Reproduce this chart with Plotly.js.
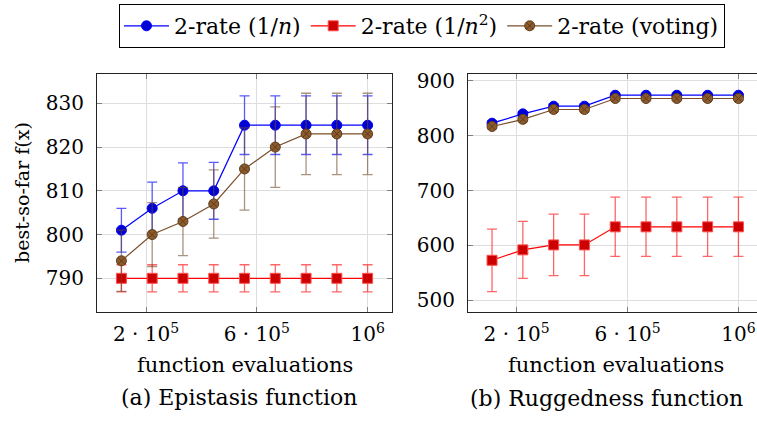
<!DOCTYPE html>
<html>
<head>
<meta charset="utf-8">
<script src="https://cdn.plot.ly/plotly-3.0.1.min.js"></script>
<style>html,body{margin:0;padding:0;background:#fff}#chart{width:757px;height:422px}</style>
</head>
<body>
<div id="chart"></div>
<script>
// Function evaluations (x positions)
var evals = [111111, 222222, 333333, 444444, 555556, 666667, 777778, 888889, 1000000];

// (a) Epistasis function
var epiRate1n   = [801, 806, 810, 810, 825, 825, 825, 825, 825];
var epiRate1nErr = [5, 6, 6.4, 6.5, 6.7, 6.7, 6.7, 6.7, 6.7];
var epiRate1n2  = [790, 790, 790, 790, 790, 790, 790, 790, 790];
var epiRate1n2Err = [3.1, 3.1, 3.1, 3.1, 3.1, 3.1, 3.1, 3.1, 3.1];
var epiVoting   = [794, 800, 803, 807, 815, 820, 823, 823, 823];
var epiVotingErr = [7, 7.3, 7.8, 7.8, 9.4, 9.2, 9.3, 9.3, 9.3];

// (b) Ruggedness function
var rugRate1n   = [823, 840, 854, 854, 874, 874, 874, 874, 874];
var rugRate1nErr = [4, 4, 4, 4, 3, 3, 3, 3, 3];
var rugRate1n2  = [573, 592, 601, 601, 634, 634, 634, 634, 634];
var rugRate1n2Err = [57, 52, 56, 56, 54, 54, 54, 54, 54];
var rugVoting   = [817, 830, 848, 848, 868, 868, 868, 868, 868];
var rugVotingErr = [4, 4, 4, 4, 3, 3, 3, 3, 3];

var seriesNames = ['2-rate (1/<i>n</i>)', '2-rate (1/<i>n</i><sup>2</sup>)', '2-rate (voting)'];
var xTickVals = [200000, 600000, 1000000];
var xTickText = ['2 · 10<sup>5</sup>', '6 · 10<sup>5</sup>', '10<sup>6</sup>'];
var yTicksA = [790, 800, 810, 820, 830];
var yTicksB = [500, 600, 700, 800, 900];

var styles = [
  {line: '#0000ff', fill: '#0000d0', edge: '#0000ff', symbol: 'circle', err: 'rgba(0,0,255,0.65)'},
  {line: '#ff0000', fill: '#cc0000', edge: '#ff5050', symbol: 'square', err: 'rgba(255,0,0,0.6)'},
  {line: '#7a4f2a', fill: '#8c5a2b', edge: '#5e3c1c', symbol: 'circle-x', err: 'rgba(110,75,40,0.6)'}
];

function mk(y, err, i, xa, ya, show) {
  var s = styles[i];
  return {
    x: evals, y: y, xaxis: xa, yaxis: ya, type: 'scatter', mode: 'lines+markers',
    name: seriesNames[i], showlegend: show, legendgroup: 'g' + i,
    line: {color: s.line, width: 1.2},
    marker: {symbol: s.symbol, size: 10, color: s.fill, line: {color: s.edge, width: 1}},
    error_y: {type: 'data', array: err, visible: true, color: s.err, thickness: 1.3, width: 5},
    cliponaxis: false
  };
}

var data = [
  mk(epiRate1n, epiRate1nErr, 0, 'x', 'y', true),
  mk(epiRate1n2, epiRate1n2Err, 1, 'x', 'y', true),
  mk(epiVoting, epiVotingErr, 2, 'x', 'y', true),
  mk(rugRate1n2, rugRate1n2Err, 1, 'x2', 'y2', false),
  mk(rugRate1n, rugRate1nErr, 0, 'x2', 'y2', false),
  mk(rugVoting, rugVotingErr, 2, 'x2', 'y2', false)
];

var W = 757, H = 422;
var FAM = 'DejaVu Serif';
function F(size) { return {family: FAM, size: size, color: '#000'}; }
function px(x) { return x / W; }
function py(y) { return 1 - y / H; }

function ax(extra) {
  var a = {
    showgrid: true, gridcolor: '#dedede', gridwidth: 1,
    ticks: 'inside', ticklen: 5, tickcolor: '#808080', tickwidth: 1,
    showline: true, linecolor: '#222', linewidth: 1, mirror: 'allticks',
    zeroline: false, tickfont: F(20), ticklabelstandoff: 8
  };
  for (var k in extra) a[k] = extra[k];
  return a;
}

function ann(text, x, y, size, angle) {
  return {text: text, textangle: angle || 0, xref: 'paper', yref: 'paper', x: px(x), y: py(y),
    xanchor: 'center', yanchor: 'middle', showarrow: false, font: F(size)};
}

var layout = {
  width: W, height: H, margin: {l: 0, r: 0, t: 0, b: 0},
  paper_bgcolor: '#fff', plot_bgcolor: '#fff', font: F(20),
  showlegend: true,
  legend: {
    orientation: 'h', x: px(422), xanchor: 'center', y: py(4), yanchor: 'top',
    bordercolor: '#000', borderwidth: 1, font: F(22),
    itemwidth: 45, tracegroupgap: 0
  },
  xaxis: ax({domain: [px(97), px(392)], range: [23000, 1088000], tickvals: xTickVals, ticktext: xTickText, anchor: 'y', ticklabelstandoff: 4}),
  yaxis: ax({domain: [py(312), py(74)], range: [782.3, 836.7], tickvals: yTicksA, anchor: 'x'}),
  xaxis2: ax({domain: [px(468), 1], range: [24400, 1067000], tickvals: xTickVals, ticktext: xTickText, anchor: 'y2', ticklabelstandoff: 4}),
  yaxis2: ax({domain: [py(312), py(74)], range: [478.7, 912.7], tickvals: yTicksB, anchor: 'x2', mirror: false}),
  annotations: [
    ann('best-so-far f(x)', 22, 193, 19, -90),
    ann('function evaluations', 244.5, 365, 21),
    ann('function evaluations', 615.5, 365, 21),
    ann('(a) Epistasis function', 238.5, 397, 22),
    ann('(b) Ruggedness function', 606.5, 398, 22)
  ]
};

Plotly.newPlot('chart', data, layout, {displayModeBar: false, staticPlot: true});
</script>
</body>
</html>
